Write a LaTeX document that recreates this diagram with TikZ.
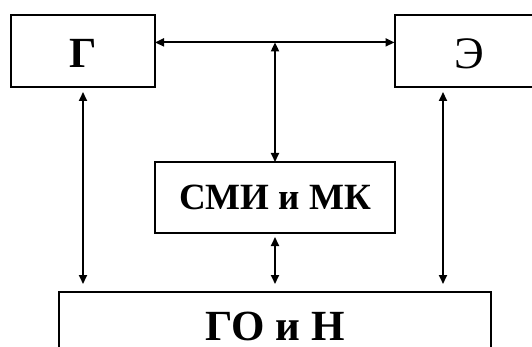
\documentclass[tikz,border=0pt]{standalone}
\usepackage{fontspec}
\setmainfont{Liberation Serif}
\usetikzlibrary{arrows.meta,positioning}

\begin{document}
\begin{tikzpicture}[
    x=1pt, y=-1pt,
    box/.style={draw, line width=2pt, outer sep=0pt, inner sep=0pt, align=center,
                minimum height=72pt, font=\fontsize{43}{50}\selectfont\bfseries},
    arrow/.style={{Triangle[length=9pt,width=8pt]}-{Triangle[length=9pt,width=8pt]}, line width=1.9pt}
]
\useasboundingbox (0,0) rectangle (532,347);
\clip (0,0) rectangle (532,347);

% ── Boxes ──
\node[box, minimum width=144pt, text height=34pt, text depth=0pt] (g) at (83,51) {Г};
\node[box, minimum width=150pt, text height=35pt, text depth=0pt,
      font=\fontsize{45}{52}\selectfont, right=239.5pt of g] (e) {Э};
\node[box, minimum width=240pt, minimum height=71pt,
      font=\fontsize{37}{44}\selectfont\bfseries] (smi) at (275,197.5) {СМИ и МК};
\node[box, minimum width=431.6pt, minimum height=69pt, below=59pt of smi] (go) {ГО и Н};

% ── Arrows (top) ──
\draw[arrow] ([yshift=8.6pt]g.east) -- ([yshift=8.6pt]e.west);
\coordinate (hub) at ([yshift=8.6pt]g.east -| smi.north);
\draw[arrow] (hub) -- (smi.north);

% ── Arrows (down to ГО и Н) ──
\draw[arrow, shorten <=5pt, shorten >=8pt] (g.south) -- (g.south |- go.north);
\draw[arrow, shorten <=5pt, shorten >=8pt] ([xshift=-26.5pt]e.south) -- ([xshift=-26.5pt]e.south |- go.north);
\draw[arrow, shorten <=4pt, shorten >=8pt] (smi.south) -- (go.north -| smi.south);

\end{tikzpicture}
\end{document}
